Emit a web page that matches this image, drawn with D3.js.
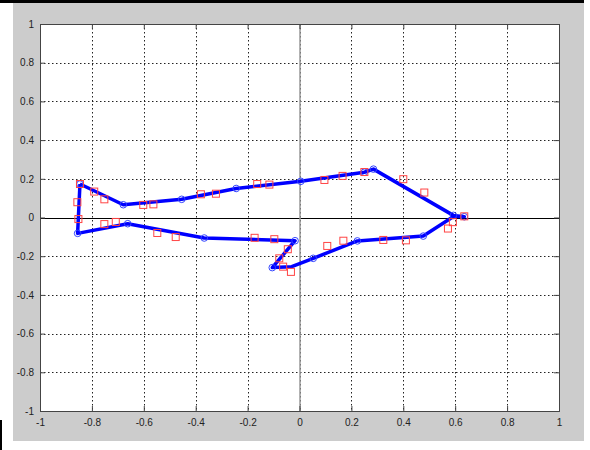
<!DOCTYPE html>
<html><head><meta charset="utf-8">
<script src="https://cdn.jsdelivr.net/npm/d3@7"></script>
<style>body{margin:0;background:#fff;}svg{display:block;}</style>
</head><body>
<script>
const xTicks = [-1,-0.8,-0.6,-0.4,-0.2,0,0.2,0.4,0.6,0.8,1];
const yTicks = [-1,-0.8,-0.6,-0.4,-0.2,0,0.2,0.4,0.6,0.8,1];
const tickLabels = ["-1","-0.8","-0.6","-0.4","-0.2","0","0.2","0.4","0.6","0.8","1"];
// blue polyline (with circle markers)
const lineX = [-0.846,-0.679,-0.454,-0.244,0.005,0.250,0.285,0.593,0.635,0.595,0.477,0.223,0.053,-0.030,-0.105,-0.017,-0.367,-0.662,-0.855,-0.846];
const lineY = [0.173,0.066,0.094,0.150,0.187,0.234,0.250,0.011,0.004,0.006,-0.096,-0.121,-0.211,-0.254,-0.259,-0.120,-0.106,-0.032,-0.082,0.173];
const circleIdx = [0,1,2,3,4,5,6,7,8,10,11,12,14,15,16,17,18];
// red square samples
const sqX = [-0.846,-0.856,-0.852,-0.791,-0.752,-0.602,-0.563,-0.380,-0.322,-0.163,-0.116,0.096,0.166,0.250,0.400,0.481,0.635,0.591,0.572,0.410,0.323,0.169,0.107,-0.033,-0.063,-0.078,-0.045,-0.097,-0.173,-0.477,-0.548,-0.708,-0.752];
const sqY = [0.173,0.079,-0.008,0.134,0.094,0.065,0.068,0.120,0.123,0.173,0.170,0.194,0.215,0.235,0.198,0.129,0.006,-0.024,-0.057,-0.118,-0.116,-0.120,-0.147,-0.281,-0.254,-0.211,-0.164,-0.112,-0.105,-0.101,-0.080,-0.023,-0.034];

const W = 590, H = 450;
const svg = d3.select("body").append("svg").attr("width", W).attr("height", H);
svg.append("rect").attr("x",13).attr("y",3).attr("width",571).attr("height",438).attr("fill","#cccccc");
svg.append("rect").attr("x",0).attr("y",0).attr("width",584).attr("height",3).attr("fill","#000");
svg.append("rect").attr("x",0).attr("y",420).attr("width",2).attr("height",30).attr("fill","#000");

const L = 40, R = 559, T = 24, B = 411;
const x = d3.scaleLinear().domain([-1,1]).range([L,R]);
const y = d3.scaleLinear().domain([-1,1]).range([B,T]);

svg.append("rect").attr("x",L).attr("y",T).attr("width",R-L).attr("height",B-T).attr("fill","#fff");

const g = svg.append("g");
// grid
g.selectAll(".gx").data(xTicks.slice(1,-1)).join("line")
  .attr("x1",d=>Math.round(x(d))+0.5).attr("x2",d=>Math.round(x(d))+0.5).attr("y1",T).attr("y2",B)
  .attr("stroke","#222").attr("stroke-width",1).attr("stroke-dasharray","1.5,2.5");
g.selectAll(".gy").data(yTicks.slice(1,-1)).join("line")
  .attr("y1",d=>Math.round(y(d))+0.5).attr("y2",d=>Math.round(y(d))+0.5).attr("x1",L).attr("x2",R)
  .attr("stroke","#222").attr("stroke-width",1).attr("stroke-dasharray","1.5,2.5");
// zero lines
g.append("line").attr("x1",L).attr("x2",R).attr("y1",Math.round(y(0))+0.5).attr("y2",Math.round(y(0))+0.5).attr("stroke","#000").attr("stroke-width",1);
g.append("line").attr("x1",Math.round(x(0))).attr("x2",Math.round(x(0))).attr("y1",T).attr("y2",B).attr("stroke","#999").attr("stroke-width",1.5);

// axes
const xb = d3.axisBottom(x).tickValues(xTicks).tickFormat((d,i)=>tickLabels[i]).tickSize(-5).tickPadding(8);
const yl = d3.axisLeft(y).tickValues(yTicks).tickFormat((d,i)=>tickLabels[i]).tickSize(-5).tickPadding(6);
const gxA = svg.append("g").attr("transform",`translate(0,${B})`).call(xb);
const gyA = svg.append("g").attr("transform",`translate(${L},0)`).call(yl);
svg.append("g").attr("transform",`translate(0,${T})`).call(d3.axisTop(x).tickValues(xTicks).tickFormat("").tickSize(-5));
svg.append("g").attr("transform",`translate(${R},0)`).call(d3.axisRight(y).tickValues(yTicks).tickFormat("").tickSize(-5));
svg.selectAll(".domain, .tick line").attr("stroke","#444");
[gxA, gyA].forEach(a=>a.selectAll("text").attr("font-family","Arial, 'Liberation Sans', sans-serif").attr("font-size",10).attr("fill","#222"));

// data
const pts = lineX.map((v,i)=>[v,lineY[i]]);
const dg = svg.append("g");
dg.append("path").attr("d", d3.line().x(d=>x(d[0])).y(d=>y(d[1]))(pts))
  .attr("fill","none").attr("stroke","#0000ff").attr("stroke-width",3.5).attr("stroke-linejoin","round");
dg.selectAll(".c").data(circleIdx).join("circle")
  .attr("cx",i=>x(lineX[i])).attr("cy",i=>y(lineY[i])).attr("r",3.3)
  .attr("fill","none").attr("stroke","#3344ff").attr("stroke-width",1);
dg.selectAll(".s").data(sqX.map((v,i)=>[v,sqY[i]])).join("rect")
  .attr("x",d=>x(d[0])-3.5).attr("y",d=>y(d[1])-3.5).attr("width",7).attr("height",7)
  .attr("fill","none").attr("stroke","#ff4444").attr("stroke-width",1);
</script>
</body></html>
